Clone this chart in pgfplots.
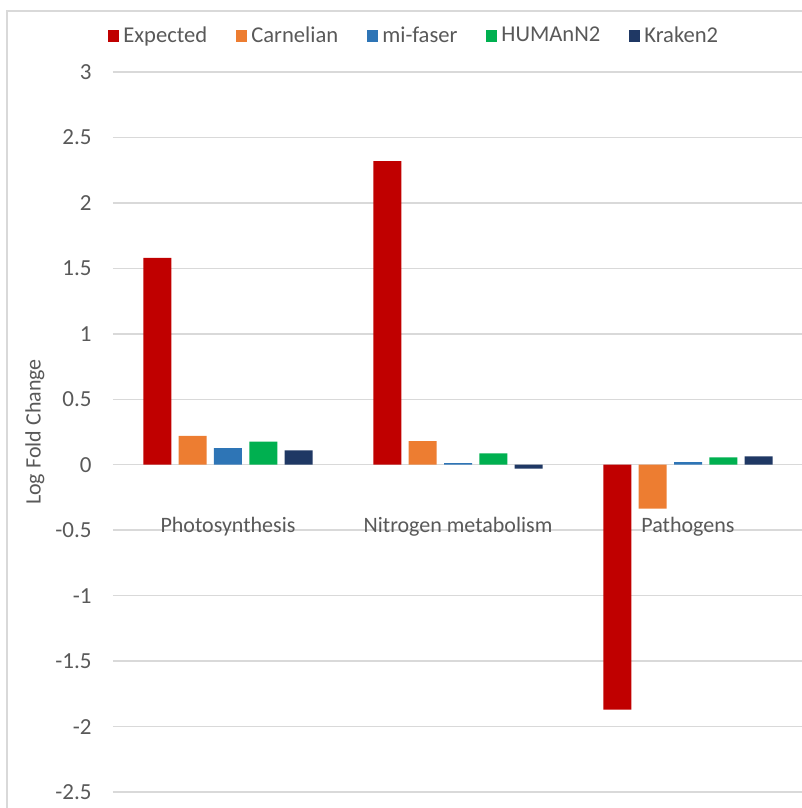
\documentclass[border=0pt]{standalone}
\usepackage{fontspec}
\setmainfont{Carlito}
\usepackage{pgfplots}
\pgfplotsset{compat=1.18}
\usetikzlibrary{calc}
\definecolor{cExp}{HTML}{C00000}
\definecolor{cCar}{HTML}{ED7D31}
\definecolor{cMif}{HTML}{2E75B6}
\definecolor{cHum}{HTML}{00B050}
\definecolor{cKra}{HTML}{1F3864}
\definecolor{txt}{HTML}{595959}
\definecolor{gridc}{HTML}{D9D9D9}
\newcommand{\lbl}{\fontsize{11}{13}\selectfont}
\begin{document}
\begin{tikzpicture}
\begin{axis}[
  scale only axis, width=345pt, height=360pt,
  ymin=-2.5, ymax=3, xmin=-0.5, xmax=2.5,
  ybar=3.65pt, bar width=14pt,
  legend image code/.code={\fill[#1,draw=none] (0pt,-3pt) rectangle (5.5pt,3pt);},
  xtick={0,1,2},
  xticklabels={Photosynthesis, Nitrogen metabolism, Pathogens},
  ytick={-2.5,-2,-1.5,-1,-0.5,0,0.5,1,1.5,2,2.5,3},
  ymajorgrids, major grid style={gridc, line width=0.75pt},
  axis line style={draw=none},
  major tick length=0pt, tick style={draw=none},
  /pgf/number format/assume math mode=true,
  yticklabel style={font=\fontsize{11.5}{13}\selectfont, text=txt, inner sep=0pt, anchor=east, xshift=-10.5pt},
  xticklabel style={font=\lbl, text=txt, inner sep=0pt, anchor=base, yshift=129.7pt},
  ylabel={Log Fold Change},
  % the label is rotated, so its own y direction points left
  ylabel style={font=\lbl, text=txt, at={(rel axis cs:0,0.5)}, anchor=center, yshift=39pt},
  legend columns=5,
  legend style={at={(rel axis cs:0,1)}, anchor=west, xshift=-2.5pt, yshift=18pt,
    draw=none, fill=none, inner xsep=0pt, font=\fontsize{11.3}{13}\selectfont, text=txt,
    /tikz/every even column/.append style={column sep=12.5pt}},
  legend cell align=left,
]
\addplot[fill=cExp, draw=none] coordinates {(0,1.58) (1,2.32) (2,-1.87)};
\addplot[fill=cCar, draw=none] coordinates {(0,0.22) (1,0.18) (2,-0.336)};
\addplot[fill=cMif, draw=none] coordinates {(0,0.127) (1,0.012) (2,0.02)};
\addplot[fill=cHum, draw=none] coordinates {(0,0.176) (1,0.087) (2,0.056)};
\addplot[fill=cKra, draw=none] coordinates {(0,0.11) (1,-0.03) (2,0.064)};
\legend{Expected, Carnelian, mi-faser, HUMAnN2, Kraken2}
\coordinate (ll) at (rel axis cs:0,0);
\coordinate (ur) at (rel axis cs:1,1);
\end{axis}
% chart area frame
\draw[gridc, line width=0.75pt] ($(ll)+(-53pt,-30pt)$) rectangle ($(ur)+(30pt,30.5pt)$);
\pgfresetboundingbox
\path[use as bounding box] ($(ll)+(-56.5pt,-8pt)$) rectangle ($(ur)+(-0.5pt,36pt)$);
\end{tikzpicture}
\end{document}
